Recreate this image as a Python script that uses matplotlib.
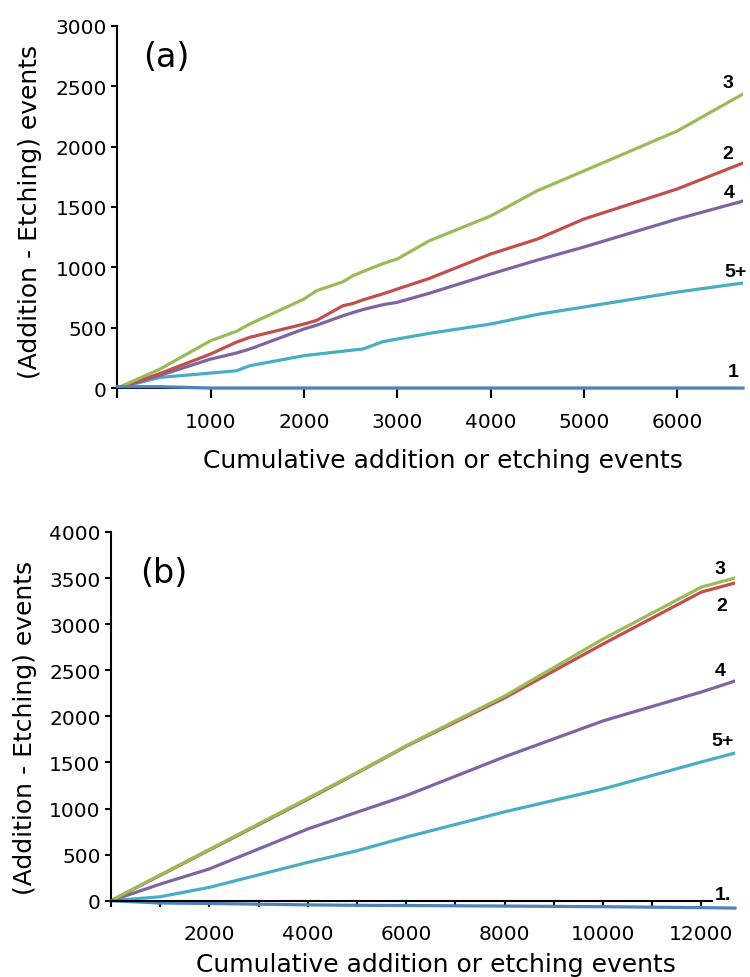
import matplotlib
matplotlib.use("Agg")
import matplotlib.pyplot as plt

plt.rcParams['font.family'] = ['DejaVu Sans']

# Panel (a)
xa = [0, 457, 1000, 1277, 1419, 2000, 2135, 2418, 2525, 2631, 2845,
      3000, 3344, 4000, 4502, 5000, 6000, 6706]
a_n3 = [0, 157, 392, 470, 530, 737, 806, 880, 930, 965, 1030,
        1069, 1220, 1425, 1635, 1798, 2129, 2436]
a_n2 = [0, 120, 282, 380, 420, 530, 560, 682, 700, 730, 780,
        820, 908, 1110, 1234, 1400, 1649, 1864]
a_n4 = [0, 105, 240, 290, 323, 489, 520, 599, 625, 650, 690,
        710, 785, 944, 1060, 1168, 1400, 1549]
a_n5 = [0, 88, 124, 143, 185, 268, 280, 305, 315, 323, 384,
        406, 453, 530, 610, 671, 795, 870]
a_n1 = [11, 11, 0, 0, 0, 0, 0, 0, 0, 0, 0,
        0, 0, 0, 0, 0, 0, 0]

# Panel (b)
xb = [0, 1000, 2000, 4000, 5000, 6000, 8000, 10000, 12000, 12683]
b_n3 = [0, 280, 556, 1111, 1390, 1681, 2220, 2838, 3402, 3500]
b_n2 = [0, 275, 550, 1100, 1385, 1675, 2200, 2784, 3348, 3446]
b_n4 = [0, 180, 345, 778, 960, 1140, 1561, 1950, 2264, 2383]
b_n5 = [0, 43, 145, 416, 542, 690, 964, 1212, 1505, 1602]
b_n1 = [0, -25, -30, -45, -50, -52, -58, -65, -75, -80]

GREEN = '#9BBB59'
RED = '#C0504D'
PURPLE = '#8064A2'
CYAN = '#4BACC6'
BLUE = '#4F81BD'

fig = plt.figure(figsize=(7.5, 9.78), dpi=100)


def style_axes(ax):
    for s in ['top', 'right']:
        ax.spines[s].set_visible(False)
    for s in ['left', 'bottom']:
        ax.spines[s].set_linewidth(1.5)
        ax.spines[s].set_color('black')
    ax.tick_params(axis='y', direction='out', width=1.5, length=4.5, pad=3,
                   labelsize=14.5, colors='black')
    ax.set_ylabel('(Addition - Etching) events', fontsize=18)
    ax.set_xlabel('Cumulative addition or etching events', fontsize=18)


def draw(ax, x, n1, n5, n4, n2, n3):
    ax.plot(x, n1, color=BLUE, lw=2.3, clip_on=False, zorder=3)
    ax.plot(x, n5, color=CYAN, lw=2.3)
    ax.plot(x, n4, color=PURPLE, lw=2.3)
    ax.plot(x, n2, color=RED, lw=2.3)
    ax.plot(x, n3, color=GREEN, lw=2.3)


# ---- (a) ----
ax1 = fig.add_axes([0.1564, 0.6022, 0.8343, 0.3703])
draw(ax1, xa, a_n1, a_n5, a_n4, a_n2, a_n3)
ax1.set_xlim(0, 6706)
ax1.set_ylim(0, 3000)
ax1.set_xticks([0, 1000, 2000, 3000, 4000, 5000, 6000])
ax1.set_xticklabels(['', '1000', '2000', '3000', '4000', '5000', '6000'])
ax1.set_yticks(range(0, 3001, 500))
style_axes(ax1)
ax1.tick_params(axis='x', direction='out', width=1.5, length=7, pad=10,
                labelsize=14.5, colors='black')
ax1.yaxis.set_label_coords(-0.12, 0.49)
ax1.xaxis.set_label_coords(0.52, -0.165)
ax1.text(0.042, 0.915, '(a)', transform=ax1.transAxes, fontsize=24,
         va='center')
for txt, xv, yv in [('3', 6545, 2535), ('2', 6545, 1939), ('4', 6555, 1624),
                    ('5+', 6630, 969), ('1', 6600, 133)]:
    ax1.text(xv, yv, txt, fontsize=14, fontweight='bold', ha='center',
             va='center', family='Liberation Sans', clip_on=False)

# ---- (b) ----
ax2 = fig.add_axes([0.148, 0.078, 0.832, 0.3771])
draw(ax2, xb, b_n1, b_n5, b_n4, b_n2, b_n3)
ax2.set_xlim(0, 12683)
ax2.set_ylim(0, 4000)
ax2.set_xticks(range(0, 12001, 1000))
ax2.set_xticklabels(['' if (v % 2000 or v == 0) else str(v)
                     for v in range(0, 12001, 1000)])
ax2.set_yticks(range(0, 4001, 500))
style_axes(ax2)
ax2.tick_params(axis='x', direction='out', width=1.5, length=4, pad=13,
                labelsize=14.5, colors='black')
ax2.spines['bottom'].set_bounds(0, 12215)
ax2.spines['bottom'].set_zorder(3.5)
ax2.yaxis.set_label_coords(-0.118, 0.47)
ax2.xaxis.set_label_coords(0.52, -0.138)
ax2.text(0.046, 0.889, '(b)', transform=ax2.transAxes, fontsize=24,
         va='center')
for txt, xv, yv in [('3', 12378, 3598), ('2', 12419, 3207), ('4', 12378, 2492),
                    ('5+', 12439, 1734), ('1.', 12439, 63)]:
    ax2.text(xv, yv, txt, fontsize=14, fontweight='bold', ha='center',
             va='center', family='Liberation Sans', clip_on=False)

fig.savefig('out.png', dpi=100)
